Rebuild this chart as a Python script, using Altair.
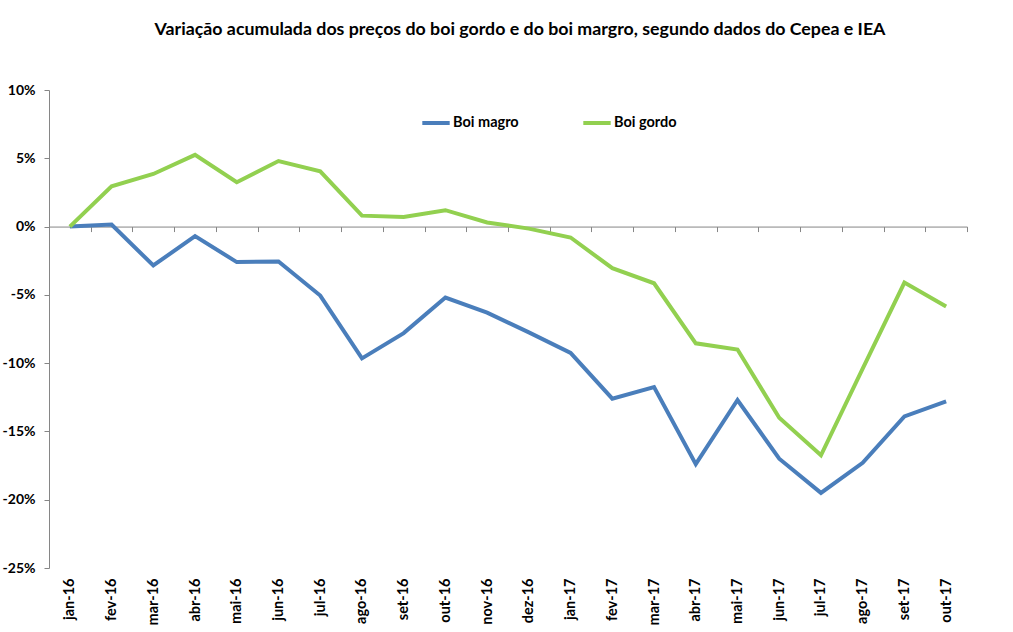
import altair as alt
import pandas as pd

months = ["jan-16", "fev-16", "mar-16", "abr-16", "mai-16", "jun-16", "jul-16",
          "ago-16", "set-16", "out-16", "nov-16", "dez-16", "jan-17", "fev-17",
          "mar-17", "abr-17", "mai-17", "jun-17", "jul-17", "ago-17", "set-17", "out-17"]
boi_magro = [0, 0.15, -2.85, -0.7, -2.6, -2.55, -5.05, -9.65, -7.8, -5.2, -6.3,
             -7.75, -9.25, -12.6, -11.75, -17.4, -12.7, -17.0, -19.5, -17.3, -13.9, -12.8]
boi_gordo = [0, 2.95, 3.85, 5.25, 3.25, 4.8, 4.05, 0.8, 0.7, 1.2, 0.3,
             -0.15, -0.8, -3.05, -4.15, -8.55, -9.0, -14.0, -16.75, -10.4, -4.1, -5.85]
series_names = ["Boi magro", "Boi gordo"]
colors = ["#4A7EBB", "#92D050"]
y_ticks = [10, 5, 0, -5, -10, -15, -20, -25]
band_edges = list(range(0, len(months) + 1))

title_text = "Variação acumulada dos preços do boi gordo e do boi margro, segundo dados do Cepea e IEA"

rows = []
for name, vals in zip(series_names, [boi_magro, boi_gordo]):
    for m, v in zip(months, vals):
        rows.append({"month": m, "series": name, "value": v})
df = pd.DataFrame(rows)
edges_df = pd.DataFrame({"b": band_edges})

W, H = 918, 478
FONT = "Lato"
GRAY = "#868686"
y_min, y_max = -25, 10
zero_offset = -(0 - y_min) / (y_max - y_min) * H

lines = alt.Chart(df).mark_line(strokeWidth=4).encode(
    x=alt.X("month:N", sort=months, scale=alt.Scale(type="point", padding=0.5),
            axis=alt.Axis(orient="bottom", title=None, domain=False, ticks=False,
                          labelAngle=-90, labelFont=FONT, labelFontWeight="bold",
                          labelFontSize=14.5, labelColor="black", labelPadding=10)),
    y=alt.Y("value:Q", scale=alt.Scale(domain=[y_min, y_max], nice=False, zero=False),
            axis=alt.Axis(values=y_ticks, labelExpr="datum.value + '%'", grid=False,
                          title=None, domainColor=GRAY, tickColor=GRAY, tickSize=5,
                          labelFont=FONT, labelFontWeight="bold", labelFontSize=14,
                          labelColor="black", labelPadding=9)),
    color=alt.Color("series:N", scale=alt.Scale(domain=series_names, range=colors),
                    legend=alt.Legend(title=None, orient="none", legendX=371, legendY=17,
                                      direction="horizontal", symbolType="stroke",
                                      symbolStrokeWidth=4, symbolSize=750,
                                      labelFont=FONT, labelFontWeight="bold",
                                      labelFontSize=14.5, labelColor="black",
                                      columnPadding=56, labelOffset=1)),
)

zero_axis = alt.Chart(edges_df).mark_point(opacity=0).encode(
    x=alt.X("b:Q", scale=alt.Scale(domain=[0, len(months)], nice=False, zero=False),
            axis=alt.Axis(orient="bottom", offset=zero_offset, values=band_edges[1:],
                          labels=False, grid=False, title=None, domainColor=GRAY,
                          tickColor=GRAY, tickSize=5)),
)

chart = alt.layer(lines, zero_axis).resolve_scale(x="independent").resolve_axis(
    x="independent"
).properties(
    width=W, height=H,
    title=alt.Title(title_text, font=FONT, fontSize=17.8, fontWeight="bold",
                    color="black", anchor="middle", offset=44, dx=12),
    autosize=alt.AutoSizeParams(type="none"),
    padding={"left": 49, "top": 90, "right": 46, "bottom": 64},
).configure_view(stroke=None)

chart.save("out.html", embed_options={"renderer": "svg", "actions": False})
